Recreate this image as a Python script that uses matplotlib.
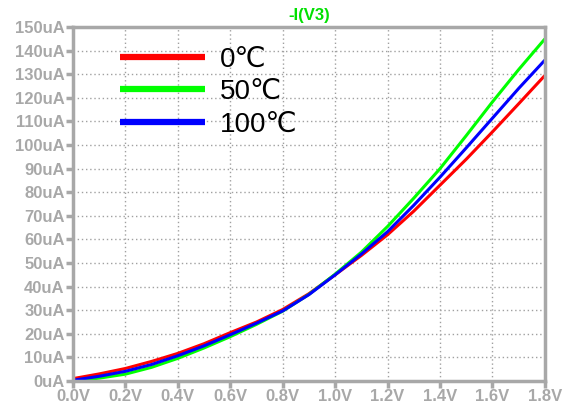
import matplotlib
matplotlib.use("Agg")
import matplotlib.pyplot as plt
import numpy as np

voltage = [0.0, 0.1, 0.2, 0.3, 0.4, 0.5, 0.6, 0.7, 0.8, 0.9, 1.0, 1.1, 1.2, 1.3, 1.4, 1.5, 1.6, 1.7, 1.8]
i_0c   = [1.0, 3.0, 5.3, 8.3, 11.7, 15.8, 20.5, 25.0, 30.3, 37.0, 45.0, 53.2, 62.0, 72.0, 83.0, 94.0, 105.6, 117.5, 129.5]
i_50c  = [0.0, 1.2, 2.9, 5.8, 9.6, 14.0, 18.8, 24.0, 29.6, 36.7, 45.3, 54.6, 65.5, 77.5, 90.0, 104.0, 118.3, 132.0, 145.0]
i_100c = [0.3, 2.0, 4.1, 7.0, 10.7, 14.9, 19.6, 24.5, 29.7, 36.6, 45.0, 53.8, 63.3, 74.5, 86.4, 98.8, 111.4, 124.0, 136.0]
labels = ["0℃", "50℃", "100℃"]
colors = ["#ff0000", "#00ff00", "#0000ff"]

x_ticks = [0.0, 0.2, 0.4, 0.6, 0.8, 1.0, 1.2, 1.4, 1.6, 1.8]
y_ticks = list(range(0, 151, 10))

fig = plt.figure(figsize=(5.7, 4.13), dpi=100)
ax = fig.add_axes([0.128, 0.0775, 0.828, 0.857])

for ys, c, lab in zip([i_0c, i_50c, i_100c], colors, labels):
    ax.plot(voltage, ys, color=c, lw=2.2, label=lab, solid_capstyle='butt')

ax.set_xlim(0, 1.8)
ax.set_ylim(0, 150)
ax.set_xticks(x_ticks)
ax.set_xticklabels([f"{v:.1f}V" for v in x_ticks])
ax.set_yticks(y_ticks)
ax.set_yticklabels([f"{v}uA" for v in y_ticks])

gray = "#a8a8a8"
for sp in ax.spines.values():
    sp.set_color(gray)
    sp.set_linewidth(2.5)
ax.tick_params(colors=gray, width=2.5, length=5, direction='out', pad=1)
for lbl in ax.get_xticklabels() + ax.get_yticklabels():
    lbl.set_fontfamily("Liberation Sans")
    lbl.set_fontweight("bold")
    lbl.set_fontsize(12)
    lbl.set_color(gray)
ax.grid(True, color="#a0a0a0", linestyle=(0, (1, 2)), linewidth=1)

ax.set_title("-I(V3)", color="#00e000", fontsize=12, fontweight="bold",
             fontfamily="Liberation Sans", pad=5)

leg = ax.legend(loc="upper left", bbox_to_anchor=(0.076, 0.976), frameon=False,
                prop={"family": ["Liberation Sans", "DejaVu Sans"], "size": 20},
                handlelength=3.06, handletextpad=0.55, labelspacing=0.23,
                borderaxespad=0)
for h in leg.get_lines():
    h.set_linewidth(4.5)

fig.savefig("out.png", dpi=100)
